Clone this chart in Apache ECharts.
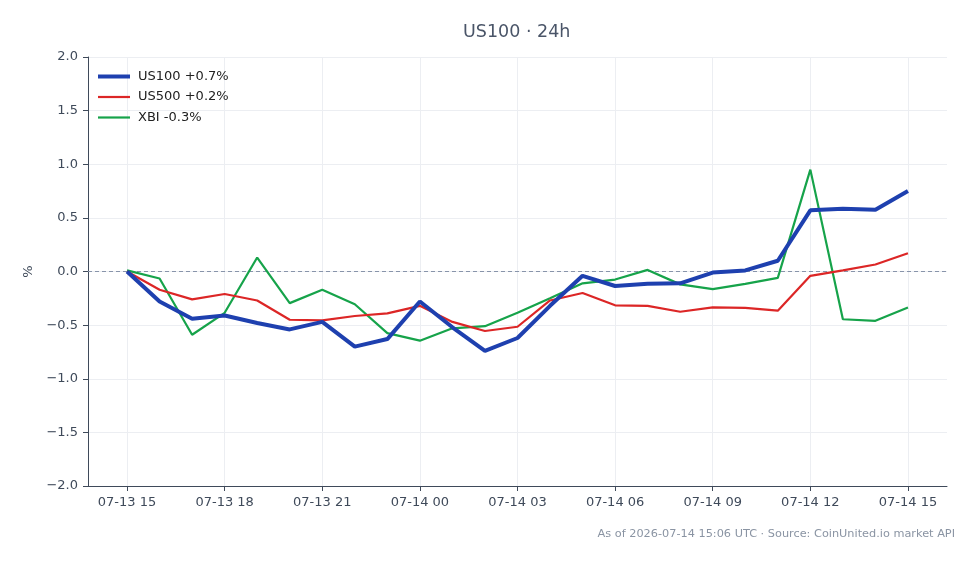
<!DOCTYPE html>
<html>
<head>
<meta charset="utf-8">
<script src="https://cdn.jsdelivr.net/npm/echarts@6/dist/echarts.min.js"></script>
<style>
html, body { margin: 0; padding: 0; background: #fff; }
#chart { width: 979px; height: 564px; }
</style>
</head>
<body>
<div id="chart"></div>
<script>
// hourly buckets, 24h window
var hours = ['07-13 15','07-13 16','07-13 17','07-13 18','07-13 19','07-13 20','07-13 21','07-13 22','07-13 23',
  '07-14 00','07-14 01','07-14 02','07-14 03','07-14 04','07-14 05','07-14 06','07-14 07','07-14 08',
  '07-14 09','07-14 10','07-14 11','07-14 12','07-14 13','07-14 14','07-14 15'];
var tickIdx = [0, 3, 6, 9, 12, 15, 18, 21, 24];

var us100 = [0, -0.28, -0.44, -0.41, -0.48, -0.54, -0.47, -0.70, -0.63, -0.28, -0.52, -0.74, -0.62,
  -0.32, -0.04, -0.135, -0.115, -0.11, -0.01, 0.01, 0.10, 0.57, 0.585, 0.575, 0.75];
var us500 = [0, -0.17, -0.26, -0.21, -0.27, -0.45, -0.455, -0.415, -0.39, -0.32, -0.47, -0.555, -0.515,
  -0.27, -0.20, -0.315, -0.32, -0.375, -0.335, -0.34, -0.365, -0.04, 0.01, 0.065, 0.17];
var xbi = [0.01, -0.065, -0.59, -0.385, 0.13, -0.295, -0.17, -0.305, -0.575, -0.645, -0.53, -0.51, -0.385,
  -0.25, -0.11, -0.075, 0.015, -0.12, -0.165, -0.115, -0.06, 0.95, -0.445, -0.46, -0.335];

var names = ['US100 +0.7%', 'US500 +0.2%', 'XBI -0.3%'];
var colors = ['#1e40af', '#dc2626', '#16a34a'];

function pairs(arr) {
  return arr.map(function (v, i) { return [i, v]; });
}

var chart = echarts.init(document.getElementById('chart'));
var font = 'DejaVu Sans';
var axisColor = '#3f4a5a';

chart.setOption({
  animation: false,
  backgroundColor: '#fff',
  color: colors,
  title: [
    {
      text: 'US100 · 24h',
      left: 458, top: 18,
      textStyle: { fontFamily: font, fontSize: 17.5, fontWeight: 'normal', color: '#4a5568' }
    },
    {
      text: 'As of 2026-07-14 15:06 UTC · Source: CoinUnited.io market API',
      right: 19, top: 524,
      textStyle: { fontFamily: font, fontSize: 11.3, fontWeight: 'normal', color: '#8a94a3' }
    }
  ],
  legend: {
    orient: 'vertical',
    left: 98, top: 70,
    padding: 0,
    itemWidth: 32, itemHeight: 14, itemGap: 7.5,
    symbolKeepAspect: true,
    data: [
      { name: names[0], icon: 'path://M0,0h32v4h-32z' },
      { name: names[1], icon: 'path://M0,0h32v2.2h-32z' },
      { name: names[2], icon: 'path://M0,0h32v2.2h-32z' }
    ],
    textStyle: { fontFamily: font, fontSize: 13, color: '#222', padding: [0, 0, 0, 3] }
  },
  grid: { left: 88, right: 32, top: 57, bottom: 78 },
  xAxis: {
    type: 'value',
    min: -1.2, max: 25.2,
    axisLine: { onZero: false, lineStyle: { color: axisColor, width: 1 } },
    axisTick: { show: true, length: 5, lineStyle: { color: axisColor }, customValues: tickIdx },
    axisLabel: {
      customValues: tickIdx,
      margin: 10,
      fontFamily: font, fontSize: 13, color: '#3f4a5a',
      formatter: function (v) { return hours[Math.round(v)]; }
    },
    splitLine: { show: true, lineStyle: { color: '#eceef2', width: 1 } }
  },
  yAxis: {
    type: 'value',
    min: -2, max: 2, interval: 0.5,
    name: '%', nameLocation: 'middle', nameGap: 50, nameRotate: 90,
    nameTextStyle: { fontFamily: font, fontSize: 13, color: '#3f4a5a' },
    axisLine: { show: true, onZero: false, lineStyle: { color: axisColor, width: 1 } },
    axisTick: { show: true, length: 5, lineStyle: { color: axisColor } },
    axisLabel: {
      margin: 10,
      fontFamily: font, fontSize: 13, color: '#3f4a5a',
      formatter: function (v) { return v.toFixed(1).replace('-', '\u2212'); }
    },
    splitLine: { show: true, lineStyle: { color: '#eceef2', width: 1 } }
  },
  series: [
    {
      name: names[0], type: 'line', data: pairs(us100), z: 4,
      symbol: 'none', lineStyle: { width: 4, color: colors[0] }
    },
    {
      name: names[1], type: 'line', data: pairs(us500), z: 3,
      symbol: 'none', lineStyle: { width: 2.2, color: colors[1] }
    },
    {
      name: names[2], type: 'line', data: pairs(xbi), z: 2,
      symbol: 'none', lineStyle: { width: 2.2, color: colors[2] },
      markLine: {
        silent: true, symbol: 'none', label: { show: false }, z: 1,
        lineStyle: { color: '#8894aa', type: [4, 3], width: 1 },
        data: [{ yAxis: 0 }]
      }
    }
  ]
});
</script>
</body>
</html>
